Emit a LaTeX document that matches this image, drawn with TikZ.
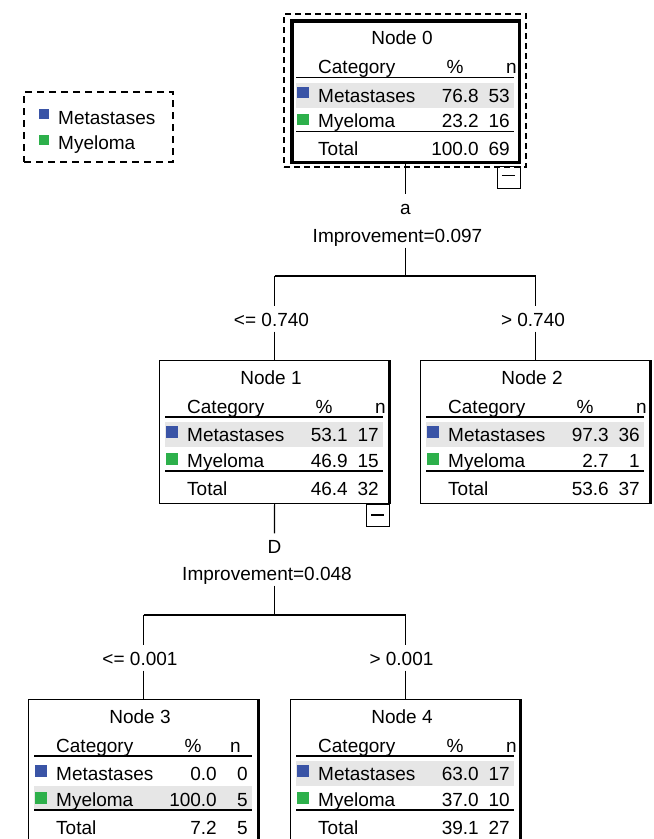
\documentclass[tikz,border=0pt]{standalone}
\usepackage{fontspec}
\setmainfont{Liberation Sans}
\definecolor{metblue}{HTML}{3A54A6}
\definecolor{myegreen}{HTML}{2DB04B}
\definecolor{bandgray}{HTML}{E6E6E6}
\tikzset{
  every node/.style={font=\fontsize{19}{22}\selectfont, inner sep=0pt},
  treebox/.style={draw, line width=1.1pt, minimum width=230pt, minimum height=143pt, anchor=north west},
  rootbox/.style={draw, line width=3.5pt, minimum width=227.5pt, minimum height=141.5pt, anchor=north west},
  cell/.style={anchor=base west},
  num/.style={anchor=base east},
  ctr/.style={anchor=base},
  sq/.style={minimum size=11.5pt, anchor=north west, inner sep=0pt},
  rulel/.style={line width=1.1pt},
  lbl/.style={anchor=base, text height=14pt, text depth=0pt, inner ysep=5.5pt, inner xsep=2pt},
  conn/.style={line width=1.1pt},
  minusbox/.style={draw, line width=1.1pt, minimum width=23pt, minimum height=22pt, anchor=north east},
  seldash/.style={draw, dash pattern=on 6pt off 4pt, line width=2pt},
  legdash/.style={draw, dash pattern=on 7pt off 5pt, line width=2.2pt},
}
\newcommand\yoff{0}
\newcommand\nhead{227}
\newcommand\treetable[9]{%
  \ifnum#9=1 \def\bandt{62}\def\bandb{87}\else\def\bandt{87}\def\bandb{110}\fi
  \begin{scope}[shift={(#1.north west)}, yshift=-\yoff pt]
    \fill[bandgray] (6,\bandt) rectangle (224,\bandb);
    \node[ctr] (#1-title) at (112,24) {#2};
    \node[cell] (#1-cat) at (28,53) {Category};
    \node[ctr] (#1-pcth) at (165,53) {\%};
    \node[num] (#1-nh) at (\nhead,53) {n};
    \draw[rulel] (6,57) -- (224,57);
    \node[sq, fill=metblue] (#1-sq1) at (7,66) {};
    \node[cell] (#1-r1) at (28,81.5) {Metastases};
    \node[num] (#1-p1) at (189,81.5) {#3};
    \node[num] (#1-n1) at (220,81.5) {#4};
    \node[sq, fill=myegreen] (#1-sq2) at (7,93) {};
    \node[cell] (#1-r2) at (28,107) {Myeloma};
    \node[num] (#1-p2) at (189,107) {#5};
    \node[num] (#1-n2) at (220,107) {#6};
    \draw[rulel] (6,111) -- (224,111);
    \node[cell] (#1-tot) at (28,135) {Total};
    \node[num] (#1-pt) at (189,135) {#7};
    \node[num] (#1-nt) at (220,135) {#8};
  \end{scope}}
\begin{document}
\begin{tikzpicture}[x=1pt, y=-1pt]
\useasboundingbox (0,0) rectangle (654,839);
\clip (0,0) rectangle (654,839);

% legend
\node[legdash, minimum width=149pt, minimum height=70pt, anchor=north west] (legend) at (23,91) {};
\node[sq, minimum size=10pt, fill=metblue] (legsq1) at (39,109) {};
\node[cell] (legt1) at (58,124.5) {Metastases};
\node[sq, minimum size=10pt, fill=myegreen] (legsq2) at (39,135) {};
\node[cell] (legt2) at (58,149) {Myeloma};

% boxes
\node[seldash, minimum width=242pt, minimum height=153pt] (n0sel) at (405,90.5) {};
\node[rootbox] (n0) at (290,19) {};
\node[treebox] (n1) at (159,360) {};
\node[treebox] (n2) at (420,360) {};
\node[treebox] (n3) at (28,699) {};
\node[treebox] (n4) at (290,699) {};
\foreach \b in {n1,n2,n3,n4}{
  \draw[line width=2.4pt] ([xshift=-0.6pt]\b.north east) -- ([xshift=-0.6pt]\b.south east);
}

% tables
\renewcommand\yoff{1.5}
\treetable{n0}{Node 0}{76.8}{53}{23.2}{16}{100.0}{69}{1}
\renewcommand\yoff{0}
\treetable{n1}{Node 1}{53.1}{17}{46.9}{15}{46.4}{32}{1}
\treetable{n2}{Node 2}{97.3}{36}{2.7}{1}{53.6}{37}{1}
\treetable{n4}{Node 4}{63.0}{17}{37.0}{10}{39.1}{27}{1}
\renewcommand\nhead{213}
\treetable{n3}{Node 3}{0.0}{0}{100.0}{5}{7.2}{5}{2}

% collapse boxes
\node[minusbox] (m0) at ([yshift=-1.5pt]n0.south east) {};
\draw[line width=1.3pt] ([xshift=5pt,yshift=-10pt]m0.north west) -- ([xshift=-6pt,yshift=-10pt]m0.north east);
\node[minusbox] (m1) at (n1.south east) {};
\draw[line width=1.3pt] ([xshift=5pt,yshift=-11pt]m1.north west) -- ([xshift=-6pt,yshift=-11pt]m1.north east);

% split 0
\node[lbl] (a0) at (405.5,214) {a};
\node[lbl] (imp0) at (397.5,242) {Improvement=0.097};
\coordinate (s0) at (405.5,276);
\draw[conn] (n0.south) -- (a0.north);
\draw[conn] (a0 |- imp0.south) -- (s0);
\node[lbl] (le0) at (271.5,326) {<= 0.740};
\node[lbl] (gt0) at (533,326) {> 0.740};
\draw[conn] (n1.north |- s0) -- (n2.north |- s0);
\draw[conn] (n1.north |- s0) -- (n1.north |- le0.north);
\draw[conn] (n1.north |- le0.south) -- (n1.north);
\draw[conn] (n2.north |- s0) -- (n2.north |- gt0.north);
\draw[conn] (n2.north |- gt0.south) -- (n2.north);

% split 1
\node[lbl] (d1) at (274.5,553) {D};
\node[lbl] (imp1) at (267,580) {Improvement=0.048};
\coordinate (s1) at (274.5,615);
\draw[conn] (n1.south) -- (d1.north);
\draw[conn] (d1 |- imp1.south) -- (s1);
\node[lbl] (le1) at (140,665) {<= 0.001};
\node[lbl] (gt1) at (401.5,665) {> 0.001};
\draw[conn] (n3.north |- s1) -- (n4.north |- s1);
\draw[conn] (n3.north |- s1) -- (n3.north |- le1.north);
\draw[conn] (n3.north |- le1.south) -- (n3.north);
\draw[conn] (n4.north |- s1) -- (n4.north |- gt1.north);
\draw[conn] (n4.north |- gt1.south) -- (n4.north);
\end{tikzpicture}
\end{document}
